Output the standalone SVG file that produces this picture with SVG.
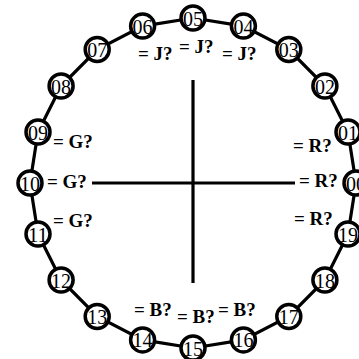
<svg xmlns="http://www.w3.org/2000/svg" width="359" height="359" viewBox="0 0 359 359">
<style>
.edge{stroke:#000;stroke-width:3.2;fill:none}
.axis{stroke:#000;stroke-width:3.2;fill:none}
.ring{fill:#fff;stroke:#000;stroke-width:3.5}
.num{font-family:"Liberation Serif","Times New Roman",serif;font-size:22px;text-anchor:middle;fill:#000}
.lbl{font-family:"Liberation Serif","Times New Roman",serif;font-size:19px;font-weight:bold;fill:#000}
</style>
<rect width="359" height="359" fill="#fff"/>
<g id="axes">
<line class="axis" x1="193" y1="80" x2="193" y2="283"/>
<line class="axis" x1="92" y1="183" x2="295" y2="183"/>
</g>
<g id="connectors">
<polygon class="edge" points="356,183 348,132 324.9,86 288.8,49.5 243.4,26.1 193,18 142.6,26.1 97.2,49.5 61.1,86 38,132 30,183 38,234 61.1,280 97.2,316.5 142.6,339.9 193,348 243.4,339.9 288.8,316.5 324.9,280 348,234"/>
</g>
<g id="n00"><circle class="ring" cx="356" cy="183" r="12"/><text class="num" x="356" y="190.5" textLength="20" lengthAdjust="spacingAndGlyphs">00</text><text class="lbl" x="299" y="187">= R?</text></g>
<g id="n01"><circle class="ring" cx="348" cy="132" r="12"/><text class="num" x="348" y="139.5" textLength="20" lengthAdjust="spacingAndGlyphs">01</text><text class="lbl" x="293" y="152">= R?</text></g>
<g id="n02"><circle class="ring" cx="324.9" cy="86" r="12"/><text class="num" x="324.9" y="93.5" textLength="20" lengthAdjust="spacingAndGlyphs">02</text></g>
<g id="n03"><circle class="ring" cx="288.8" cy="49.5" r="12"/><text class="num" x="288.8" y="57" textLength="20" lengthAdjust="spacingAndGlyphs">03</text></g>
<g id="n04"><circle class="ring" cx="243.4" cy="26.1" r="12"/><text class="num" x="243.4" y="33.6" textLength="20" lengthAdjust="spacingAndGlyphs">04</text><text class="lbl" x="222" y="60">= J?</text></g>
<g id="n05"><circle class="ring" cx="193" cy="18" r="12"/><text class="num" x="193" y="25.5" textLength="20" lengthAdjust="spacingAndGlyphs">05</text><text class="lbl" x="179" y="53">= J?</text></g>
<g id="n06"><circle class="ring" cx="142.6" cy="26.1" r="12"/><text class="num" x="142.6" y="33.6" textLength="20" lengthAdjust="spacingAndGlyphs">06</text><text class="lbl" x="138" y="60">= J?</text></g>
<g id="n07"><circle class="ring" cx="97.2" cy="49.5" r="12"/><text class="num" x="97.2" y="57" textLength="20" lengthAdjust="spacingAndGlyphs">07</text></g>
<g id="n08"><circle class="ring" cx="61.1" cy="86" r="12"/><text class="num" x="61.1" y="93.5" textLength="20" lengthAdjust="spacingAndGlyphs">08</text></g>
<g id="n09"><circle class="ring" cx="38" cy="132" r="12"/><text class="num" x="38" y="139.5" textLength="20" lengthAdjust="spacingAndGlyphs">09</text><text class="lbl" x="53" y="148">= G?</text></g>
<g id="n10"><circle class="ring" cx="30" cy="183" r="12"/><text class="num" x="30" y="190.5" textLength="20" lengthAdjust="spacingAndGlyphs">10</text><text class="lbl" x="47" y="188">= G?</text></g>
<g id="n11"><circle class="ring" cx="38" cy="234" r="12"/><text class="num" x="38" y="241.5" textLength="20" lengthAdjust="spacingAndGlyphs">11</text><text class="lbl" x="53" y="227">= G?</text></g>
<g id="n12"><circle class="ring" cx="61.1" cy="280" r="12"/><text class="num" x="61.1" y="287.5" textLength="20" lengthAdjust="spacingAndGlyphs">12</text></g>
<g id="n13"><circle class="ring" cx="97.2" cy="316.5" r="12"/><text class="num" x="97.2" y="324" textLength="20" lengthAdjust="spacingAndGlyphs">13</text></g>
<g id="n14"><circle class="ring" cx="142.6" cy="339.9" r="12"/><text class="num" x="142.6" y="347.4" textLength="20" lengthAdjust="spacingAndGlyphs">14</text><text class="lbl" x="134" y="316">= B?</text></g>
<g id="n15"><circle class="ring" cx="193" cy="348" r="12"/><text class="num" x="193" y="355.5" textLength="20" lengthAdjust="spacingAndGlyphs">15</text><text class="lbl" x="177" y="323">= B?</text></g>
<g id="n16"><circle class="ring" cx="243.4" cy="339.9" r="12"/><text class="num" x="243.4" y="347.4" textLength="20" lengthAdjust="spacingAndGlyphs">16</text><text class="lbl" x="218" y="316">= B?</text></g>
<g id="n17"><circle class="ring" cx="288.8" cy="316.5" r="12"/><text class="num" x="288.8" y="324" textLength="20" lengthAdjust="spacingAndGlyphs">17</text></g>
<g id="n18"><circle class="ring" cx="324.9" cy="280" r="12"/><text class="num" x="324.9" y="287.5" textLength="20" lengthAdjust="spacingAndGlyphs">18</text></g>
<g id="n19"><circle class="ring" cx="348" cy="234" r="12"/><text class="num" x="348" y="241.5" textLength="20" lengthAdjust="spacingAndGlyphs">19</text><text class="lbl" x="294" y="225">= R?</text></g>
</svg>
